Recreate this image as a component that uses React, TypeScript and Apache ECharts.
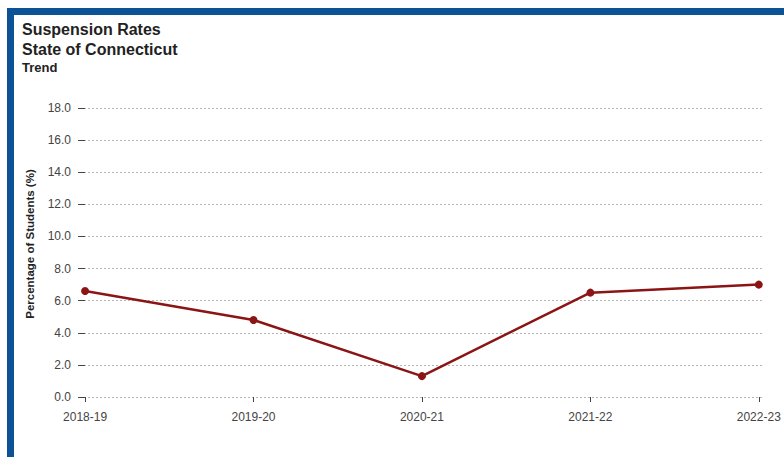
import React, { useEffect, useRef } from "react";
import * as echarts from "echarts";

const categories = ["2018-19", "2019-20", "2020-21", "2021-22", "2022-23"];
const rates = [6.6, 4.8, 1.3, 6.5, 7.0];
const titleLines = ["Suspension Rates", "State of Connecticut", "Trend"];
const yAxisTitle = "Percentage of Students (%)";

export default function App() {
  const ref = useRef<HTMLDivElement>(null);
  useEffect(() => {
    if (!ref.current) return;
    const chart = echarts.init(ref.current, null, { renderer: "svg" });
    const idx = categories.map((_, i) => i);
    const font = "'Liberation Sans', Arial, sans-serif";
    chart.setOption({
      animation: false,
      backgroundColor: "#ffffff",
      graphic: [
        { type: "rect", shape: { x: 7, y: 8, width: 777, height: 7 }, style: { fill: "#0b5394" } },
        { type: "rect", shape: { x: 7, y: 8, width: 7, height: 449 }, style: { fill: "#0b5394" } },
        {
          type: "text", x: 22, y: 29,
          style: { text: titleLines[0], font: `bold 16px ${font}`, fill: "#222", verticalAlign: "middle" },
        },
        {
          type: "text", x: 22, y: 49,
          style: { text: titleLines[1], font: `bold 16px ${font}`, fill: "#222", verticalAlign: "middle" },
        },
        {
          type: "text", x: 22, y: 67,
          style: { text: titleLines[2], font: `bold 13px ${font}`, fill: "#222", verticalAlign: "middle" },
        },
        {
          type: "text", x: 30, y: 244, rotation: Math.PI / 2,
          style: {
            text: yAxisTitle, font: `bold 11.5px ${font}`, fill: "#222",
            align: "center", verticalAlign: "middle",
          },
        },
      ],
      grid: { left: 80, right: 21, top: 108, bottom: 60, containLabel: false },
      xAxis: {
        type: "value",
        min: -0.03,
        max: 4.025,
        offset: 6,
        axisLine: { show: false },
        splitLine: { show: false },
        axisTick: {
          show: true,
          customValues: idx,
          length: 5,
          lineStyle: { color: "#444", width: 1 },
        },
        axisLabel: {
          customValues: idx,
          formatter: (v: number) => categories[Math.round(v)] ?? "",
          color: "#444",
          fontSize: 12,
          fontFamily: font,
          margin: 8,
        },
      },
      yAxis: {
        type: "value",
        min: 0,
        max: 18,
        interval: 2,
        axisLine: { show: false },
        axisTick: { show: true, length: 7, lineStyle: { color: "#444", width: 1 } },
        axisLabel: {
          formatter: (v: number) => v.toFixed(1),
          color: "#444",
          fontSize: 12,
          fontFamily: font,
          margin: 9,
        },
        splitLine: { show: true, lineStyle: { color: "#b5b5b5", type: [2, 2], width: 1 } },
      },
      series: [
        {
          type: "line",
          data: rates.map((v, i) => [i, v]),
          symbol: "circle",
          symbolSize: 8,
          lineStyle: { color: "#8b1515", width: 2.5 },
          itemStyle: { color: "#8b1515" },
        },
      ],
    });
    return () => chart.dispose();
  }, []);
  return (
    <div
      ref={ref}
      style={{ position: "absolute", left: 0, top: 0, width: 784, height: 457 }}
    />
  );
}
